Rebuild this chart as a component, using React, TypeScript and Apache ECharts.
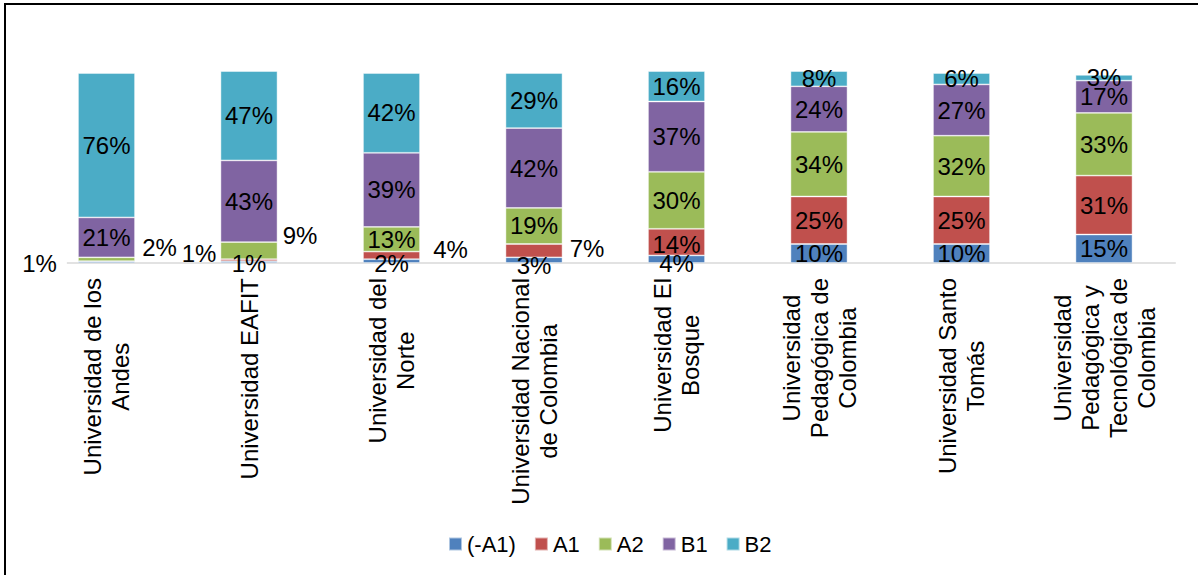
import React, { useEffect, useRef } from "react";
import * as echarts from "echarts";

const categories = [
  "Universidad de los\nAndes",
  "Universidad EAFIT",
  "Universidad del\nNorte",
  "Universidad Nacional\nde Colombia",
  "Universidad El\nBosque",
  "Universidad\nPedagógica de\nColombia",
  "Universidad Santo\nTomás",
  "Universidad\nPedagógica y\nTecnológica de\nColombia",
];

const seriesNames = ["(-A1)", "A1", "A2", "B1", "B2"];
const preA1 = [1, 1, 2, 3, 4, 10, 10, 15];
const a1 = [0, 1, 4, 7, 14, 25, 25, 31];
const a2 = [2, 9, 13, 19, 30, 34, 32, 33];
const b1 = [21, 43, 39, 42, 37, 24, 27, 17];
const b2 = [76, 47, 42, 29, 16, 8, 6, 3];
const seriesValues = [preA1, a1, a2, b1, b2];
const colors = ["#4F81BD", "#C0504D", "#9BBB59", "#8064A2", "#4BACC6"];

const FONT = "'Liberation Sans', Arial, sans-serif";

// label displacement (Excel-style manual positions) keyed "series-category"
const labelOffsets: Record<string, number[]> = {
  "0-0": [-64, 1],
  "2-0": [53, -12],
  "0-1": [0, 1.5],
  "1-1": [-50, -7],
  "2-1": [51, -15],
  "0-2": [0, 2],
  "1-2": [59, -6],
  "0-3": [0, 5],
  "1-3": [53, -2],
  "0-4": [0, 4],
  "1-4": [0, 2],
};

export default function App() {
  const ref = useRef<HTMLDivElement>(null);
  useEffect(() => {
    if (!ref.current) return;
    const chart = echarts.init(ref.current, undefined, { renderer: "svg" });
    const series = seriesValues.map((vals, si) => ({
      name: seriesNames[si],
      type: "bar",
      stack: "total",
      barWidth: 57,
      itemStyle: {
        color: colors[si],
        borderColor: "rgba(255,255,255,0.55)",
        borderWidth: 0.8,
      },
      label: {
        show: true,
        position: "inside",
        color: "#000",
        fontSize: 24,
        fontFamily: FONT,
        formatter: (p: any) => (p.value ? p.value + "%" : ""),
      },
      data: vals.map((v, ci) => {
        const off = labelOffsets[si + "-" + ci];
        if (!off) return v;
        const lbl: any = { offset: off };
        if (si === 0 && ci === 0) {
          lbl.backgroundColor = "#fff";
          lbl.padding = [0, 10, 0, 4];
        }
        return { value: v, label: lbl };
      }),
    }));
    chart.setOption({
      animation: false,
      backgroundColor: "#fff",
      textStyle: { fontFamily: FONT },
      grid: {
        left: 35.25,
        right: 22.75,
        top: 54,
        bottom: 312,
        containLabel: false,
        outerBoundsMode: "none",
      },
      legend: {
        data: seriesNames,
        left: 448,
        top: 533,
        padding: 0,
        icon: "rect",
        itemWidth: 13,
        itemHeight: 13,
        itemGap: 18,
        textStyle: { fontSize: 22, color: "#000", fontFamily: FONT },
      },
      xAxis: {
        type: "category",
        data: categories,
        axisTick: { show: false },
        axisLine: { lineStyle: { color: "#D9D9D9", width: 1.5 } },
        axisLabel: {
          interval: 0,
          rotate: 90,
          margin: 15,
          color: "#000",
          fontSize: 24,
          lineHeight: 28,
          fontFamily: FONT,
          formatter: (v: string) =>
            v
              .split("\n")
              .map((l) => "{c|" + l + "}")
              .join("\n"),
          rich: {
            c: {
              align: "center",
              fontSize: 24,
              lineHeight: 28,
              color: "#000",
              fontFamily: FONT,
            },
          },
        },
      },
      yAxis: { type: "value", min: 0, max: 110, show: false },
      graphic: [
        {
          type: "rect",
          shape: { x: 5, y: 4, width: 1400, height: 800 },
          style: { fill: "none", stroke: "#000", lineWidth: 2 },
          silent: true,
          z: 100,
        },
      ],
      series,
    });
    return () => chart.dispose();
  }, []);
  return (
    <div
      ref={ref}
      style={{ position: "fixed", left: 0, top: 0, width: 1198, height: 575 }}
    />
  );
}
